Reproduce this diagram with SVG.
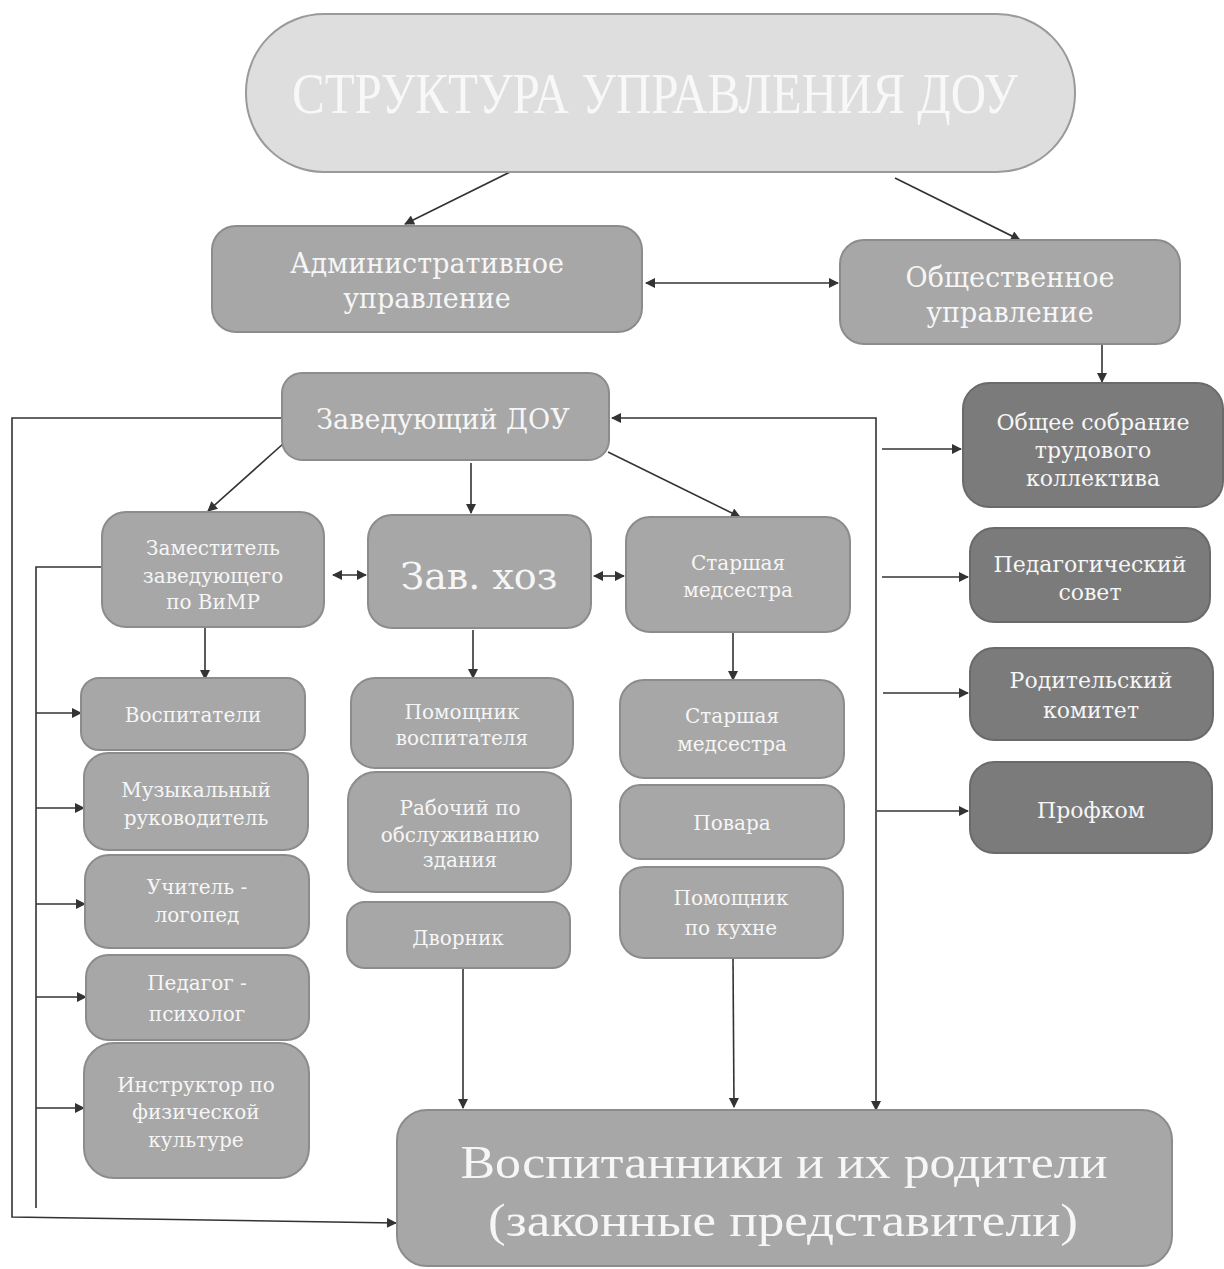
<svg xmlns="http://www.w3.org/2000/svg" width="1224" height="1269" viewBox="0 0 1224 1269">
<style>
.bx{fill:#a7a7a7;stroke:#8c8c8c;stroke-width:2}
.dk{fill:#7b7b7b;stroke:#6a6a6a;stroke-width:2}
.tt{fill:#dedede;stroke:#9a9a9a;stroke-width:2}
.t{fill:#f6f6f6;font-family:"DejaVu Serif","Liberation Serif",serif;text-anchor:middle}
.s21{font-size:20px}
.s23{font-size:22px}
.s28{font-size:27px}
.c{fill:none;stroke:#333;stroke-width:1.6}
</style>
<defs>
<marker id="ah" viewBox="0 0 10 10" refX="9" refY="5" markerWidth="11" markerHeight="10" markerUnits="userSpaceOnUse" orient="auto-start-reverse">
<path d="M0,0 L10,5 L0,10 z" fill="#333"/>
</marker>
</defs>
<rect width="1224" height="1269" fill="#ffffff"/>

<g id="connectors">
<line class="c" x1="510" y1="172" x2="405" y2="224" marker-end="url(#ah)"/>
<line class="c" x1="895" y1="178" x2="1020" y2="240" marker-end="url(#ah)"/>
<line class="c" x1="646" y1="283" x2="838" y2="283" marker-start="url(#ah)" marker-end="url(#ah)"/>
<line class="c" x1="1102" y1="345" x2="1102" y2="382" marker-end="url(#ah)"/>
<line class="c" x1="284" y1="443" x2="208" y2="511" marker-end="url(#ah)"/>
<line class="c" x1="471" y1="463" x2="471" y2="513" marker-end="url(#ah)"/>
<line class="c" x1="608" y1="452" x2="740" y2="517" marker-end="url(#ah)"/>
<line class="c" x1="333" y1="575" x2="366" y2="575" marker-start="url(#ah)" marker-end="url(#ah)"/>
<line class="c" x1="594" y1="576" x2="624" y2="576" marker-start="url(#ah)" marker-end="url(#ah)"/>
<line class="c" x1="205" y1="628" x2="205" y2="679" marker-end="url(#ah)"/>
<line class="c" x1="473" y1="630" x2="473" y2="678" marker-end="url(#ah)"/>
<line class="c" x1="733" y1="633" x2="733" y2="680" marker-end="url(#ah)"/>
<polyline class="c" points="282,418 12,418 12,1217 396,1223" marker-end="url(#ah)"/>
<polyline class="c" points="101,567 36,567 36,1208"/>
<line class="c" x1="36" y1="713" x2="81" y2="713" marker-end="url(#ah)"/>
<line class="c" x1="36" y1="808" x2="84" y2="808" marker-end="url(#ah)"/>
<line class="c" x1="36" y1="904" x2="85" y2="904" marker-end="url(#ah)"/>
<line class="c" x1="36" y1="997" x2="86" y2="997" marker-end="url(#ah)"/>
<line class="c" x1="36" y1="1108" x2="84" y2="1108" marker-end="url(#ah)"/>
<polyline class="c" points="612,418 876,418 876,1110" marker-start="url(#ah)" marker-end="url(#ah)"/>
<line class="c" x1="882" y1="449" x2="961" y2="449" marker-end="url(#ah)"/>
<line class="c" x1="882" y1="577" x2="968" y2="577" marker-end="url(#ah)"/>
<line class="c" x1="883" y1="693" x2="968" y2="693" marker-end="url(#ah)"/>
<line class="c" x1="877" y1="811" x2="968" y2="811" marker-end="url(#ah)"/>
<line class="c" x1="463" y1="968" x2="463" y2="1108" marker-end="url(#ah)"/>
<line class="c" x1="733" y1="958" x2="734" y2="1107" marker-end="url(#ah)"/>
</g>

<g id="title">
<rect class="tt" x="246" y="14" width="829" height="158" rx="78"/>
<text x="655" y="113" font-family="Liberation Serif, serif" font-size="56" fill="#f8f8f8" text-anchor="middle" textLength="726" lengthAdjust="spacingAndGlyphs">СТРУКТУРА УПРАВЛЕНИЯ ДОУ</text>
</g>

<g id="adm">
<rect class="bx" x="212" y="226" width="430" height="106" rx="24"/>
<text class="t s28" x="427" y="273">Административное</text>
<text class="t s28" x="427" y="308">управление</text>
</g>

<g id="obsh">
<rect class="bx" x="840" y="240" width="340" height="104" rx="24"/>
<text class="t s28" x="1010" y="287">Общественное</text>
<text class="t s28" x="1010" y="322">управление</text>
</g>

<g id="zav">
<rect class="bx" x="282" y="373" width="327" height="87" rx="20"/>
<text class="t" x="443" y="429" font-size="27">Заведующий ДОУ</text>
</g>

<g id="zam">
<rect class="bx" x="102" y="512" width="222" height="115" rx="24"/>
<text class="t s21" x="213" y="555">Заместитель</text>
<text class="t s21" x="213" y="583">заведующего</text>
<text class="t s21" x="213" y="609">по ВиМР</text>
</g>

<g id="zavhoz">
<rect class="bx" x="368" y="515" width="223" height="113" rx="24"/>
<text class="t" x="479" y="589" font-size="38">Зав. хоз</text>
</g>

<g id="med1">
<rect class="bx" x="626" y="517" width="224" height="115" rx="24"/>
<text class="t s21" x="738" y="570">Старшая</text>
<text class="t s21" x="738" y="597">медсестра</text>
</g>

<g id="obshee">
<rect class="dk" x="963" y="383" width="260" height="124" rx="26"/>
<text class="t s23" x="1093" y="430">Общее собрание</text>
<text class="t s23" x="1093" y="458">трудового</text>
<text class="t s23" x="1093" y="486">коллектива</text>
</g>

<g id="pedsovet">
<rect class="dk" x="970" y="528" width="240" height="94" rx="24"/>
<text class="t s23" x="1090" y="572">Педагогический</text>
<text class="t s23" x="1090" y="600">совет</text>
</g>

<g id="rodkom">
<rect class="dk" x="970" y="648" width="243" height="92" rx="24"/>
<text class="t s23" x="1091" y="688">Родительский</text>
<text class="t s23" x="1091" y="718">комитет</text>
</g>

<g id="profkom">
<rect class="dk" x="970" y="762" width="242" height="91" rx="24"/>
<text class="t s23" x="1091" y="818">Профком</text>
</g>

<g id="vosp">
<rect class="bx" x="81" y="678" width="224" height="72" rx="18"/>
<text class="t s21" x="193" y="722">Воспитатели</text>
</g>

<g id="muz">
<rect class="bx" x="84" y="753" width="224" height="97" rx="24"/>
<text class="t s21" x="196" y="797">Музыкальный</text>
<text class="t s21" x="196" y="825">руководитель</text>
</g>

<g id="logoped">
<rect class="bx" x="85" y="855" width="224" height="93" rx="24"/>
<text class="t s21" x="197" y="894">Учитель -</text>
<text class="t s21" x="197" y="922">логопед</text>
</g>

<g id="psiholog">
<rect class="bx" x="86" y="955" width="223" height="85" rx="22"/>
<text class="t s21" x="197" y="990">Педагог -</text>
<text class="t s21" x="197" y="1021">психолог</text>
</g>

<g id="instruktor">
<rect class="bx" x="84" y="1043" width="225" height="135" rx="30"/>
<text class="t s21" x="196" y="1092">Инструктор по</text>
<text class="t s21" x="196" y="1119">физической</text>
<text class="t s21" x="196" y="1147">культуре</text>
</g>

<g id="pomvosp">
<rect class="bx" x="351" y="678" width="222" height="90" rx="24"/>
<text class="t s21" x="462" y="719">Помощник</text>
<text class="t s21" x="462" y="745">воспитателя</text>
</g>

<g id="rabochiy">
<rect class="bx" x="348" y="772" width="223" height="120" rx="28"/>
<text class="t s21" x="460" y="815">Рабочий по</text>
<text class="t s21" x="460" y="842">обслуживанию</text>
<text class="t s21" x="460" y="867">здания</text>
</g>

<g id="dvornik">
<rect class="bx" x="347" y="902" width="223" height="66" rx="18"/>
<text class="t s21" x="458" y="945">Дворник</text>
</g>

<g id="med2">
<rect class="bx" x="620" y="680" width="224" height="98" rx="24"/>
<text class="t s21" x="732" y="723">Старшая</text>
<text class="t s21" x="732" y="751">медсестра</text>
</g>

<g id="povara">
<rect class="bx" x="620" y="785" width="224" height="74" rx="20"/>
<text class="t s21" x="732" y="830">Повара</text>
</g>

<g id="pomkuh">
<rect class="bx" x="620" y="867" width="223" height="91" rx="24"/>
<text class="t s21" x="731" y="905">Помощник</text>
<text class="t s21" x="731" y="935">по кухне</text>
</g>

<g id="vospitanniki">
<rect class="bx" x="397" y="1110" width="775" height="156" rx="30"/>
<text x="784" y="1178" font-family="Liberation Serif, serif" font-size="46" fill="#f6f6f6" text-anchor="middle" textLength="647" lengthAdjust="spacingAndGlyphs">Воспитанники и их родители</text>
<text x="783" y="1236" font-family="Liberation Serif, serif" font-size="46" fill="#f6f6f6" text-anchor="middle" textLength="590" lengthAdjust="spacingAndGlyphs">(законные представители)</text>
</g>
</svg>
